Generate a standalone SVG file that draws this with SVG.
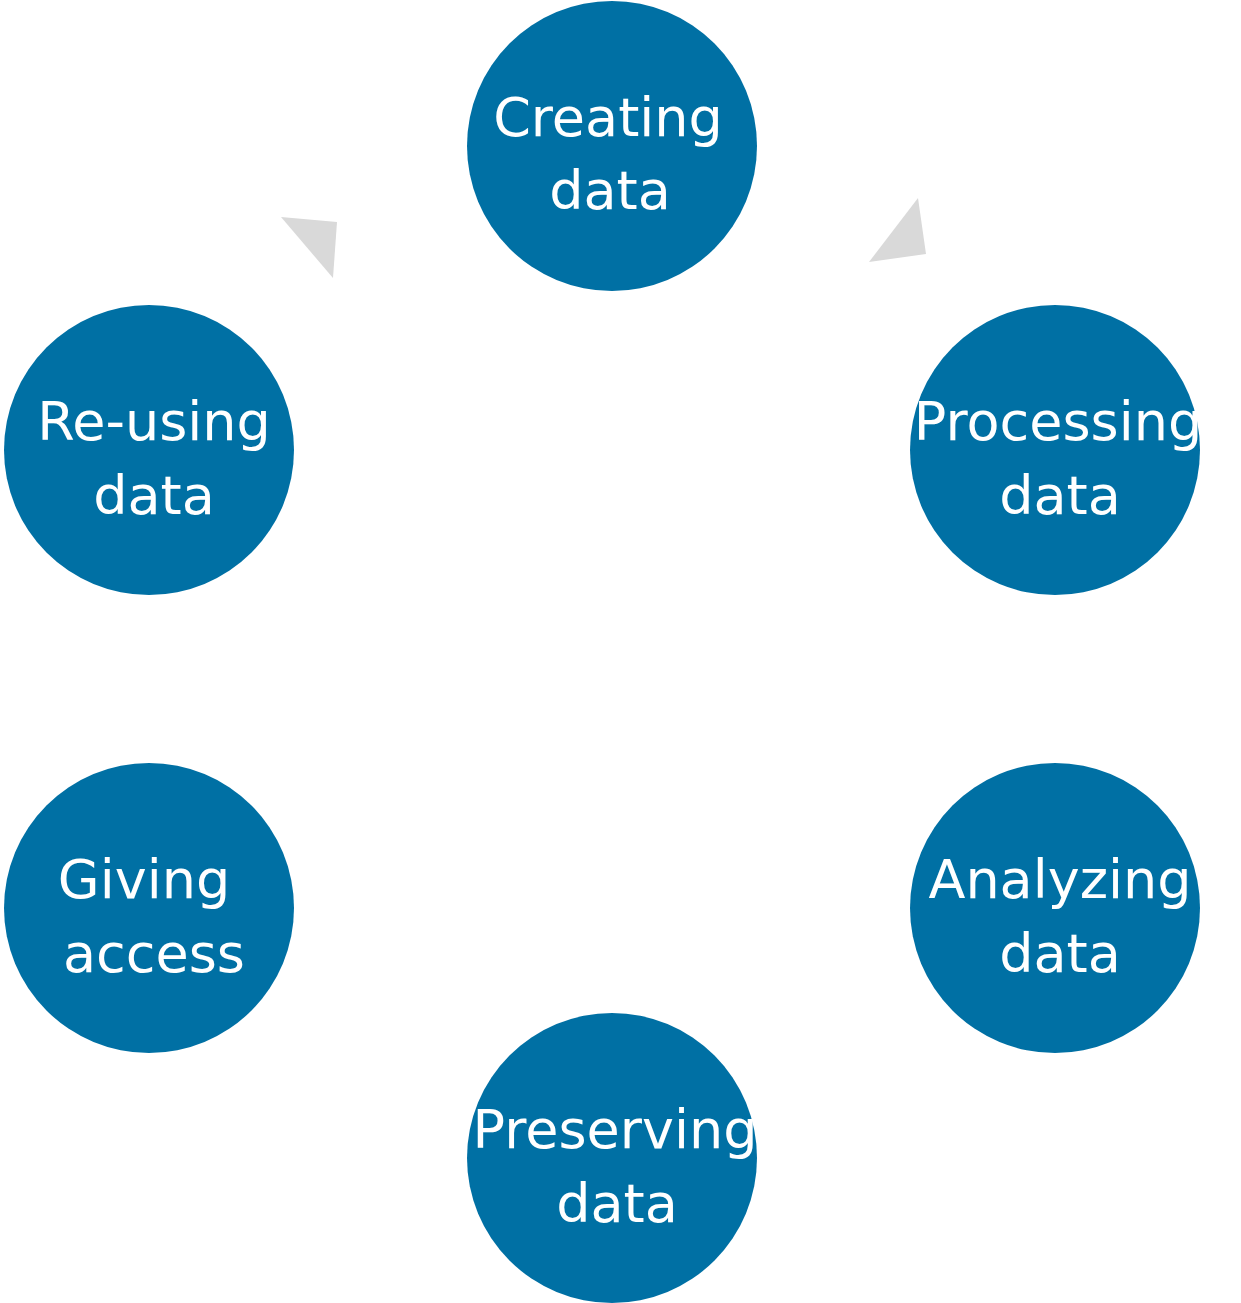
<svg xmlns="http://www.w3.org/2000/svg" width="1241" height="1303" viewBox="0 0 1241 1303">
<style>
.n{fill:#0070a4}
.t{fill:#fff;font-family:"DejaVu Sans",Verdana,sans-serif;font-size:54px;text-anchor:middle}
.a{fill:#d9d9d9}
</style>
<rect width="1241" height="1303" fill="#fff"/>
<g id="connectors">
<polygon class="a" points="281,217 337,222 333,278"/>
<polygon class="a" points="918,198 926,254 869,262"/>
</g>
<g id="creating"><circle class="n" cx="612" cy="146" r="145"/><text class="t" x="608" y="136">Creating</text><text class="t" x="610" y="209">data</text></g>
<g id="processing"><circle class="n" cx="1055" cy="450" r="145"/><text class="t" x="1058" y="440">Processing</text><text class="t" x="1060" y="514">data</text></g>
<g id="analyzing"><circle class="n" cx="1055" cy="908" r="145"/><text class="t" x="1060" y="898">Analyzing</text><text class="t" x="1060" y="972">data</text></g>
<g id="preserving"><circle class="n" cx="612" cy="1158" r="145"/><text class="t" x="615" y="1148">Preserving</text><text class="t" x="617" y="1222">data</text></g>
<g id="giving"><circle class="n" cx="149" cy="908" r="145"/><text class="t" x="144" y="898">Giving</text><text class="t" x="154" y="972">access</text></g>
<g id="reusing"><circle class="n" cx="149" cy="450" r="145"/><text class="t" x="154" y="440">Re-using</text><text class="t" x="154" y="514">data</text></g>
</svg>
